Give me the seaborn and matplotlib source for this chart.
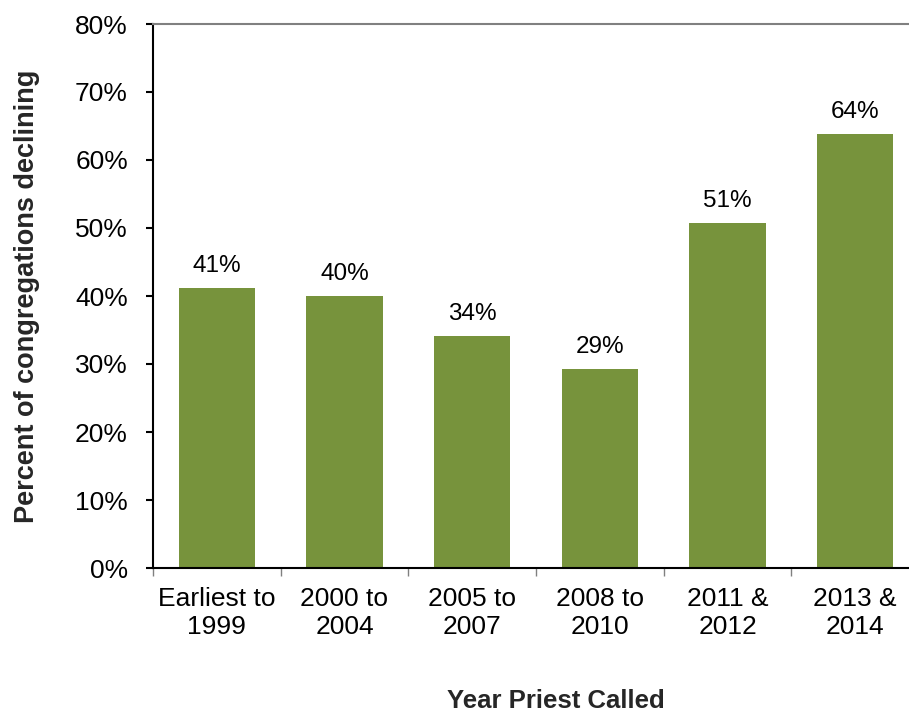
import matplotlib
matplotlib.use("Agg")
import matplotlib.pyplot as plt
from matplotlib.ticker import FixedLocator, NullFormatter
import seaborn as sns
import pandas as pd

categories = ["Earliest to\n1999", "2000 to\n2004", "2005 to\n2007",
              "2008 to\n2010", "2011 &\n2012", "2013 &\n2014"]
pct_declining = [41.2, 40.0, 34.1, 29.3, 50.7, 63.8]
y_ticks = [0, 10, 20, 30, 40, 50, 60, 70, 80]

sns.set_theme(style="white")
plt.rcParams["font.family"] = ["Liberation Sans", "DejaVu Sans"]

df = pd.DataFrame({"period": categories, "pct": pct_declining})

fig = plt.figure(figsize=(9.09, 7.14), dpi=100)
ax = fig.add_axes([153 / 909, 1 - 568 / 714, 766 / 909, 544 / 714])

sns.barplot(data=df, x="period", y="pct", color="#77933C", saturation=1,
            width=0.6, ax=ax, edgecolor="none")

for i, v in enumerate(pct_declining):
    ax.annotate(f"{v:.0f}%", (i, v), xytext=(0, 11.5), textcoords="offset points",
                ha="center", va="baseline", fontsize=17.5, color="black")

ax.set_xlim(-0.5, len(categories) - 0.5)
ax.set_ylim(0, 80)
ax.set_yticks(y_ticks)
ax.set_yticklabels([f"{t}%" for t in y_ticks], fontsize=19, color="black")
ax.tick_params(axis="y", which="major", direction="out", length=5, width=1.5,
               color="black", left=True, pad=13)

# category labels centred, tick marks at the category boundaries
ax.set_xticks(range(len(categories)))
ax.set_xticklabels(categories, fontsize=19, color="black", linespacing=1.17)
ax.tick_params(axis="x", which="major", length=0, pad=14)
ax.xaxis.set_minor_locator(FixedLocator([i - 0.5 for i in range(len(categories) + 1)]))
ax.xaxis.set_minor_formatter(NullFormatter())
ax.tick_params(axis="x", which="minor", direction="out", length=6, width=1,
               color="#808080", bottom=True)

ax.spines["right"].set_visible(False)
ax.spines["left"].set_color("black")
ax.spines["left"].set_linewidth(1.5)
ax.spines["bottom"].set_color("black")
ax.spines["bottom"].set_linewidth(1.5)
ax.spines["top"].set_color("#808080")
ax.spines["top"].set_linewidth(1.5)
ax.grid(False)

ax.set_xlabel("Year Priest Called", fontsize=18.5, fontweight="bold")
ax.xaxis.set_label_coords((556 - 153) / 766, (568 - 689) / 544)
ax.set_ylabel("Percent of congregations declining", fontsize=19.5,
              fontweight="bold")
ax.yaxis.set_label_coords((40 - 153) / 766, 0.5)

fig.savefig("out.png", dpi=100)
